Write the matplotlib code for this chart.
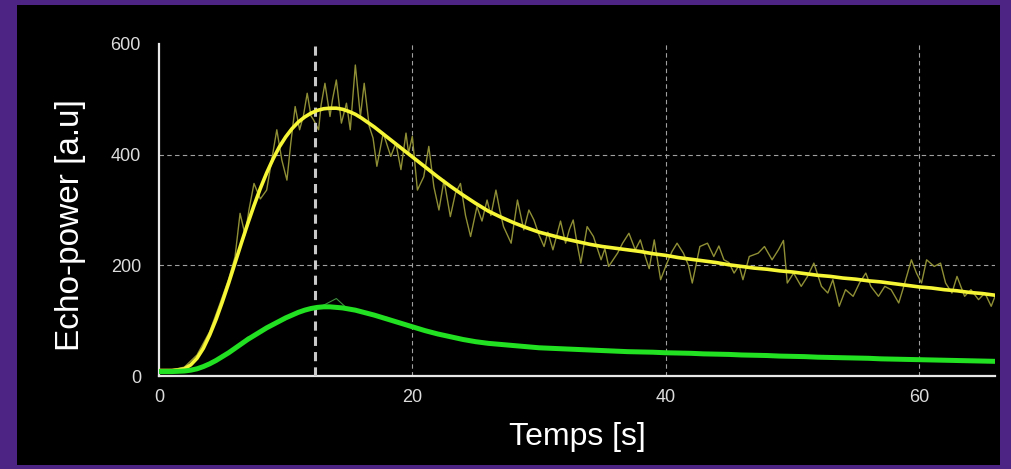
import matplotlib
matplotlib.use("Agg")
import matplotlib.pyplot as plt
from matplotlib.patches import Rectangle

# fitted curves: every 0.5 s up to 16 s, then every second up to 66 s
fit_t = [0, 0.5, 1, 1.5, 2, 2.5, 3, 3.5, 4, 4.5, 5, 5.5, 6, 6.5, 7, 7.5,
         8, 8.5, 9, 9.5, 10, 10.5, 11, 11.5, 12, 12.5, 13, 13.5, 14, 14.5,
         15, 15.5, 16] + list(range(17, 67))
fit_yellow = [10, 10, 10, 11, 13, 20, 32, 50, 74, 102, 134, 168, 204, 240, 275, 308,
              339, 367, 392, 414, 432, 447, 459, 468, 475, 480, 483, 484, 484, 482,
              478, 473, 466,
              450, 432, 414,
              396, 378, 360, 343, 327, 312, 298, 287, 277, 268,
              260, 254, 248, 243, 238, 234, 231, 228, 225, 221,
              218, 214, 211, 208, 205, 201, 198, 195, 193, 190,
              188, 185, 182, 180, 177, 175, 172, 170, 167, 164,
              161, 159, 156, 154, 151, 149, 146]
fit_green = [8, 8, 8, 8.5, 9, 10.5, 13, 17, 22, 28, 35, 42, 50, 58, 66, 73,
             80, 87, 93, 99, 105, 110, 115, 119, 122, 124, 125, 125, 124, 123,
             121, 119, 116,
             110, 103, 96,
             89, 82, 76, 71, 66, 62, 59, 57, 55, 53,
             51, 50, 49, 48, 47, 46, 45, 44, 43.5, 43,
             42, 41.5, 41, 40, 39.5, 39, 38, 37.5, 37, 36,
             35.5, 35, 34, 33.5, 33, 32.5, 32, 31, 30.5, 30,
             29.5, 29, 28.5, 28, 27.5, 27, 26.5]

# raw echo-power (yellow)
raw_t = [0, 1, 2, 3, 4, 4.8, 5.5, 6.0, 6.4, 6.8, 7.1, 7.5, 8.0, 8.5, 8.9, 9.3,
         9.7, 10.1, 10.4, 10.75, 11.1, 11.4, 11.7, 12.0, 12.2, 12.6, 12.8, 13.1,
         13.5, 13.7, 14.0, 14.4, 14.8, 15.1, 15.5, 15.9, 16.2, 16.6, 16.9, 17.2,
         17.7, 18.3, 18.7, 19.1, 19.5, 19.7, 20.0, 20.4, 20.9, 21.3, 21.7, 22.1,
         22.5, 23.0, 23.4, 23.8, 24.2, 24.6, 25.1, 25.5, 25.9, 26.2, 26.6, 26.9,
         27.2, 27.8, 28.3, 28.8, 29.2, 29.6, 30.0, 30.4, 30.7, 31.1, 31.7, 32.1,
         32.4, 32.7, 33.0, 33.3, 33.8, 34.3, 34.9, 35.2, 35.5, 36.2, 36.6, 37.1,
         37.6, 38.0, 38.4, 38.7, 39.1, 39.6, 40.1, 40.5, 40.9, 41.4, 41.8, 42.1,
         42.7, 43.3, 43.8, 44.2, 44.6, 45.0, 45.4, 45.8, 46.1, 46.6, 47.3, 47.8,
         48.4, 48.9, 49.3, 49.6, 50.1, 50.7, 51.2, 51.7, 52.3, 52.8, 53.2, 53.7,
         54.2, 54.8, 55.3, 55.8, 56.2, 56.8, 57.3, 57.8, 58.4, 58.8, 59.4, 59.8,
         60.2, 60.6, 61.2, 61.7, 62.1, 62.6, 63.0, 63.6, 64.1, 64.7, 65.2, 65.7,
         66.0]
raw_yellow = [10, 11, 16, 38, 80, 130, 175, 215, 294, 255, 300, 348, 320, 336, 390, 445,
              390, 354, 420, 487, 445, 470, 511, 470, 463, 445, 490, 529,
              469, 500, 535, 457, 493, 445, 562, 469, 529, 451, 430, 379,
              439, 397, 421, 373, 439, 403, 433, 336, 360, 415, 342, 300,
              354, 288, 330, 348, 290, 252, 306, 280, 318, 290, 336, 300,
              270, 240, 318, 264, 300, 282, 255, 234, 260, 228, 280, 240,
              265, 282, 240, 204, 270, 252, 210, 230, 198, 222, 240, 258,
              228, 246, 215, 194, 246, 174, 204, 225, 240, 222, 200, 168,
              234, 240, 216, 235, 210, 205, 186, 200, 174, 216, 222, 234,
              210, 228, 245, 168, 186, 162, 180, 204, 162, 150, 174, 126,
              156, 144, 168, 186, 162, 144, 162, 156, 132, 162, 210, 186,
              168, 210, 198, 204, 168, 150, 180, 144, 156, 138, 150, 126,
              144]

# raw green trace, one value per second, mostly hidden under its fit
raw_green_t = list(range(0, 67))
raw_green = [8, 9, 10, 15, 20, 38, 47, 70, 78, 96,
             102, 118, 120, 128, 140, 119, 118, 108, 106, 94,
             91, 80, 78, 69, 68, 60, 61, 56, 57, 52,
             52, 49, 50, 47, 48, 45, 46, 43, 45, 42,
             43, 41, 42, 39, 41, 38, 39, 37, 38, 35,
             36, 34, 35, 33, 34, 32, 33, 30, 31, 29,
             30, 28, 29, 27, 28, 26, 27]

peak_time = 12.3

x_ticks = [0, 20, 40, 60]
y_ticks = [0, 200, 400, 600]

fig = plt.figure(figsize=(10.12, 4.69), dpi=100, facecolor='#4d2383')
# black panel inside the purple frame
fig.patches.append(Rectangle((17 / 1012, 4 / 469), 983 / 1012, 460 / 469,
                             transform=fig.transFigure, facecolor='black',
                             edgecolor='none', zorder=-10))

ax = fig.add_axes([159 / 1012, 93 / 469, 836 / 1012, 332 / 469])
ax.set_facecolor('black')

ax.plot(raw_t, raw_yellow, color='#8f8f36', lw=1.0, zorder=2)
ax.plot(raw_green_t, raw_green, color='#3f8f3f', lw=0.8, zorder=2)
ax.axvline(peak_time, color='#c8c8c8', lw=2.2, ls=(0, (3, 2)), zorder=3)
ax.plot(fit_t, fit_yellow, color='#f6f636', lw=2.6, zorder=4,
        solid_capstyle='round', solid_joinstyle='round')
ax.plot(fit_t, fit_green, color='#22e022', lw=3.6, zorder=5,
        solid_capstyle='round', solid_joinstyle='round')

ax.set_xlim(0, 66)
ax.set_ylim(0, 600)
ax.set_xticks(x_ticks)
ax.set_yticks(y_ticks)
ax.grid(True, color='#a0a0a0', ls=(0, (4, 3)), lw=0.8, zorder=1)
ax.yaxis.get_gridlines()[3].set_visible(False)
ax.yaxis.get_gridlines()[0].set_visible(False)
ax.xaxis.get_gridlines()[0].set_visible(False)

for side in ['top', 'right']:
    ax.spines[side].set_visible(False)
for side in ['left', 'bottom']:
    ax.spines[side].set_color('#e8e8e8')
    ax.spines[side].set_linewidth(1.6)

ax.tick_params(length=0, colors='#dcdcdc', labelsize=13)
ax.tick_params(axis='y', pad=13)
ax.tick_params(axis='x', pad=9)
for lab in ax.get_xticklabels() + ax.get_yticklabels():
    lab.set_family('Liberation Sans')

ax.set_xlabel('Temps [s]', color='white', fontsize=23, family='Liberation Sans')
ax.set_ylabel('Echo-power [a.u]', color='white', fontsize=24,
              family='Liberation Sans', va='center')
ax.xaxis.set_label_coords(0.5, -0.14)
ax.yaxis.set_label_coords(-0.106, 0.455)

plt.savefig('out.png', dpi=100, facecolor=fig.get_facecolor())
